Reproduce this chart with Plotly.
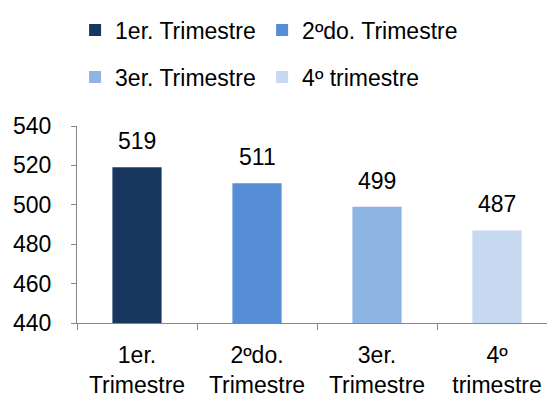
import plotly.graph_objects as go

categories = ["1er.<br>Trimestre", "2ºdo.<br>Trimestre", "3er.<br>Trimestre", "4º<br>trimestre"]
series_names = ["1er. Trimestre", "2ºdo. Trimestre", "3er. Trimestre", "4º trimestre"]
values = [519, 511, 499, 487]
colors = ["#17375E", "#558ED5", "#8EB4E3", "#C6D9F1"]
y_ticks = [440, 460, 480, 500, 520, 540]

FONT = "Liberation Sans"
FS = 23

fig = go.Figure()
legend_ids = ["legend", "legend2", "legend3", "legend4"]
for i, (cat, name, val, col) in enumerate(zip(categories, series_names, values, colors)):
    fig.add_trace(go.Bar(
        x=[cat], y=[val], name=name, marker=dict(color=col, line=dict(width=0)),
        legend=legend_ids[i], hoverinfo="x+y",
    ))
    fig.add_annotation(x=cat, y=val, text=str(val), showarrow=False,
                       yanchor="bottom", yshift=11,
                       font=dict(family=FONT, size=FS, color="#000000"))

# legend positions (paper coords of the plot area)
leg_pos = [(-0.004, 1.487), (0.3856, 1.487), (-0.004, 1.249), (0.3856, 1.249)]
leg_common = dict(orientation="h", xanchor="left", yanchor="middle",
                  font=dict(family=FONT, size=FS, color="#000000"),
                  bgcolor="rgba(0,0,0,0)", itemclick=False)
layout_legends = {}
for lid, (lx, ly) in zip(legend_ids, leg_pos):
    layout_legends[lid] = dict(x=lx, y=ly, **leg_common)

fig.update_layout(
    width=555, height=407,
    margin=dict(l=69, r=6, t=118, b=92, autoexpand=False),
    paper_bgcolor="white", plot_bgcolor="white",
    barmode="overlay", bargap=0.59,
    showlegend=True,
    font=dict(family=FONT, size=FS, color="#000000"),
    **layout_legends,
)
fig.update_xaxes(
    type="category", categoryorder="array", categoryarray=categories,
    showline=True, linecolor="#868686", linewidth=1,
    ticks="outside", ticklen=6, tickcolor="#868686", tickson="boundaries",
    showgrid=False, tickfont=dict(family=FONT, size=FS, color="#000000"),
    ticklabelstandoff=11, range=[-0.5, 3.5],
)
fig.update_yaxes(
    range=[440, 540], tickvals=y_ticks, ticktext=[str(v) for v in y_ticks],
    showline=True, linecolor="#868686", linewidth=1,
    ticks="outside", ticklen=5, tickcolor="#868686",
    showgrid=False, zeroline=False,
    tickfont=dict(family=FONT, size=FS, color="#000000"),
    ticklabelstandoff=15,
)
fig.write_html("out.html")
